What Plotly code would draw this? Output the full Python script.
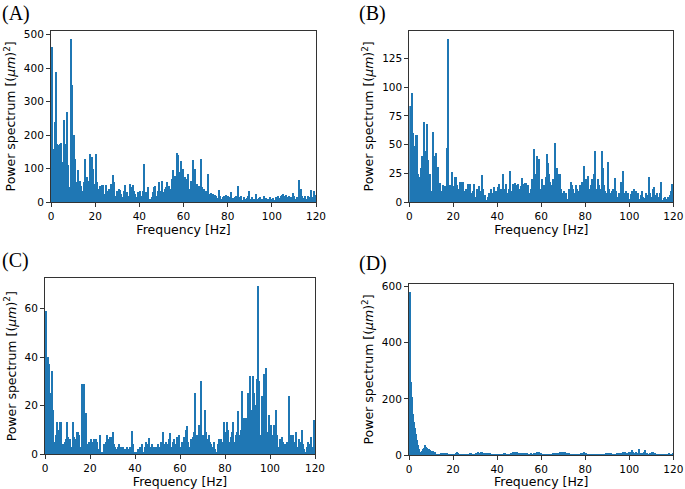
import plotly.graph_objects as go

FREQ_STEP = 0.5

power_a = [
    463,160,150,240,388,175,170,130,175,178, 120,245,150,175,270,110,45,40,487,350,
    200,130,60,40,95,45,65,50,35,60, 130,50,75,65,60,145,120,135,100,55,
    145,60,20,40,50,15,53,53,25,53, 20,35,40,25,55,55,83,60,20,35,
    30,40,38,25,15,10,35,52,30,20, 10,55,45,20,52,35,25,15,30,20,
    35,8,20,35,115,15,30,45,10,8, 10,15,30,45,48,20,35,60,35,30,
    63,25,30,40,45,60,50,40,30,70, 95,45,80,70,148,140,90,123,60,100,
    40,75,55,70,85,40,65,50,127,80, 100,45,55,40,50,128,45,30,40,25,
    35,30,85,25,28,20,25,15,22,18, 5,12,37,20,10,15,20,8,22,12,
    18,10,15,30,12,8,15,20,10,48, 15,10,20,8,15,10,5,12,20,35,
    10,8,15,10,5,25,10,8,12,15, 5,10,18,8,12,5,10,8,15,10,
    5,12,8,15,10,20,12,8,18,22, 25,18,22,15,10,20,8,15,5,28,
    20,10,15,8,66,15,41,20,8,12, 18,10,20,15,8,36,15,10,33,22,
]

power_b = [
    84,37,95,60,30,49,59,59,25,22, 30,40,20,70,45,30,68,37,20,25,
    10,61,40,4,43,18,31,12,17,10, 15,14,12,14,47,142,14,15,12,26,
    14,22,22,15,12,8,18,18,5,18, 10,12,8,16,5,16,8,3,10,16,
    5,12,3,14,8,10,24,12,4,6, 2,5,8,3,12,6,8,13,5,10,
    13,16,8,12,12,25,5,12,16,8, 12,27,10,5,16,12,17,15,10,16,
    12,14,21,16,10,17,17,12,15,8, 12,20,8,46,25,10,40,30,38,12,
    20,8,15,5,22,42,34,25,18,15, 20,12,52,20,30,10,25,25,12,8,
    10,5,8,3,2,12,10,18,15,12, 8,15,12,10,8,15,5,18,12,32,
    20,15,23,12,8,15,20,10,25,45, 12,20,15,8,12,45,30,15,10,8,
    35,12,8,5,10,12,6,21,10,5, 8,4,18,10,27,8,6,10,5,8,
    3,7,10,5,12,8,10,5,8,3, 6,10,5,2,4,8,3,6,22,8,
    5,12,13,4,6,8,3,5,8,18, 2,4,5,3,2,5,3,6,10,16,
]

power_c = [
    59,8,40,37,25,25,34,18,5,8, 13,10,6,13,13,4,4,5,6,13,
    7,6,6,3,13,7,6,5,9,9, 8,3,29,4,29,12,17,4,3,5,
    6,5,4,6,3,6,5,2,8,1, 0.5,0.3,4,4,5,8,6,7,5,7,
    9,4,3,2,3,4,3,2,3,3, 2,2,3,1,2,3,1,9.5,4,1,
    0.5,1,2,1,3,2,4,1,3,5, 2,4,6.5,3,2,4,3,1,3,2,
    4,3,2,5,9,4,2,5,3,4, 6,8.5,3,5,6,4,3,7,5,8,
    3,5,4,7,6,10,11.5,5,3,6, 4,7,9,25,5,8,12,5,30,6,
    8,7,18,9,6,8,5,4,2,3, 5,2,1,4,6,5,6,3,5,13,
    9,13,10,5,2,7,9,13,5,8, 9,17.5,6,8,10,26,15,10,15,14,
    25,20,32,18,32,25,10,20,31,69, 30,8,24,12,33,20,35.5,9,5,16,
    12,6,8,12,5,18,8,3,6,4, 7,5,2,4,3,5,24,3,8,4,
    8,2,5,9,3,6,5,3,10,4, 2,1,3,5,1,4,7,2,3,14,
]

power_d = [
    580,260,206,147,117,95,75,55,35,20, 12,14,20,25,35,28,24,22,20,18,
    15,13,12,10,3,2,1,2,3,5, 4,5,3,4,5,3,2,3,2,1,
    2,3,5,9,7,3,2,1,2,1, 2,3,1,2,1,4,6,2,1,2,
    4,8,10,6,4,9,11,5,4,6, 5,7,8,4,3,2,1,2,1,1,
    2,1,3,2,1,2,5,4,3,2, 1,3,5,8,10,9,11,7,9,5,
    3,4,2,4,5,3,4,5,3,2, 4,3,2,4,6,8,10,7,9,5,
    3,2,1,2,1,2,1,1,2,3, 4,3,5,6,8,6,7,9,12,10,
    8,11,7,5,4,6,3,2,3,1, 2,1,2,1,2,3,4,6,10,8,
    5,3,2,1,2,1,2,1,1,2, 1,2,1,1,2,1,2,3,4,6,
    5,7,4,6,3,2,2,3,4,3, 5,6,8,7,10,12,9,6,8,10,
    7,12,18,9,6,8,10,7,20,8, 6,4,7,9,18,6,4,3,5,6,
    12,9,7,5,3,2,1,2,1,2, 1,2,3,2,1,2,5,3,2,4,
]

panel_labels = ["(A)", "(B)", "(C)", "(D)"]
y_tick_steps = [100, 25, 20, 200]
x_tick_vals = [0, 20, 40, 60, 80, 100, 120]
x_title = "Frequency [Hz]"
y_title = "Power spectrum [(<i>μm</i>)<sup>2</sup>]"

series = [power_a, power_b, power_c, power_d]

W, H = 685, 489
# plot-area boxes in pixels: (left, right, top, bottom)
boxes = [(51, 316, 30.7, 202), (409.3, 673.3, 30.7, 202),
         (45, 315, 278.3, 454.3), (409, 673.3, 284, 455)]
label_pos = [(0, 13), (357, 13), (0, 260), (357, 263)]

BLUE = "#1f77b4"
AX = "#333333"
FONT = "DejaVu Sans"

fig = go.Figure()
layout = dict(
    width=W, height=H, margin=dict(l=0, r=0, t=0, b=0),
    paper_bgcolor="white", plot_bgcolor="white",
    showlegend=False, bargap=0, annotations=[],
    font=dict(family=FONT, size=12.5, color="black"),
)

for i, vals in enumerate(series):
    n = i + 1
    xa = "x" if n == 1 else f"x{n}"
    ya = "y" if n == 1 else f"y{n}"
    freqs = [k * FREQ_STEP for k in range(len(vals))]
    fig.add_trace(go.Bar(
        x=freqs, y=vals, width=FREQ_STEP, offset=0,
        marker=dict(color=BLUE, line=dict(width=0)),
        xaxis=xa, yaxis=ya,
    ))
    l, r, t, b = boxes[i]
    ymax = max(vals) * 1.05
    step = y_tick_steps[i]
    yticks = [v * step for v in range(int(ymax // step) + 1)]
    axis_common = dict(
        showline=True, linecolor=AX, linewidth=1, mirror=True,
        ticks="outside", ticklen=4, tickwidth=1, tickcolor=AX,
        showgrid=False, zeroline=False, automargin=False,
        tickfont=dict(family=FONT, size=10.5, color="black"),
    )
    layout["xaxis" if n == 1 else f"xaxis{n}"] = dict(
        domain=[l / W, r / W], anchor=ya, range=[0, 120],
        tickvals=x_tick_vals,
        title=dict(text=x_title, font=dict(family=FONT, size=12.5), standoff=1),
        **axis_common,
    )
    layout["yaxis" if n == 1 else f"yaxis{n}"] = dict(
        domain=[1 - b / H, 1 - t / H], anchor=xa, range=[0, ymax],
        tickvals=yticks,
        title=dict(text=y_title, font=dict(family=FONT, size=12.5), standoff=5),
        **axis_common,
    )
    lx, ly = label_pos[i]
    layout["annotations"].append(dict(
        text=panel_labels[i], x=lx / W, y=1 - ly / H, xref="paper", yref="paper",
        xanchor="left", yanchor="middle", showarrow=False,
        font=dict(family="Liberation Serif", size=20, color="black"),
    ))

fig.update_layout(**layout)
fig.write_html(
    "out.html",
    config={"displayModeBar": False},
    post_script="document.body.style.margin='0';document.body.style.overflow='hidden';",
)
